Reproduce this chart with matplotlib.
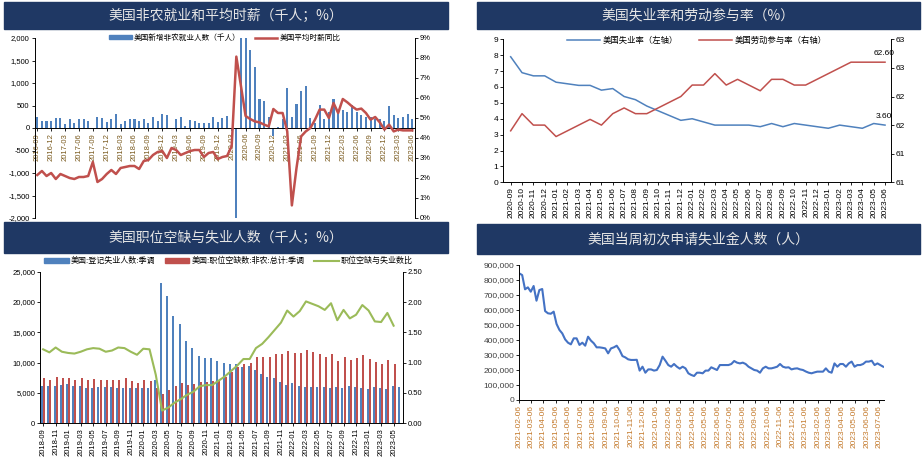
import matplotlib
matplotlib.use('Agg')
import matplotlib.pyplot as plt
import matplotlib.dates as mdates
from matplotlib.patches import Rectangle, Patch
from matplotlib.lines import Line2D
from matplotlib.ticker import FuncFormatter
import numpy as np
import pandas as pd

plt.rcParams['font.family'] = ['Liberation Sans', 'Noto Sans CJK SC']
plt.rcParams['axes.unicode_minus'] = False

W, H = 924, 463
NAVY = '#1F3864'
BLUE = '#4F81BD'
RED = '#C0504D'
GREEN = '#9BBB59'

# ---------------- panel 1: nonfarm payrolls & hourly earnings ----------------
nfp_months = pd.period_range('2016-09', '2023-06', freq='M').strftime('%Y-%m')
nfp = [237, 155, 163, 155,
       215, 215, 90, 200, 120, 200, 193, 155, 10, 245, 222, 140,
       193, 311, 90, 155, 200, 200, 163, 193, 120, 237, 155, 304,
       289, 5, 193, 245, 44, 178, 155, 120, 120, 120, 237, 133,
       215, 267, -60, -20500, 2700, 4600, 1736, 1348, 637, 608, 234, -176,
       30, 200, 894, 234, 542, 820, 923, 212, 117, 505, 190, 352,
       652, 410, 410, 366, 505, 366, 278, 234, 234, 190, 190, 150,
       498, 300, 227, 234, 322, 190]
ahe = [2.15, 2.35, 2.1, 2.25,
       1.95, 2.2, 2.1, 2.0, 1.95, 2.05, 2.05, 2.1, 2.8, 1.8, 1.95, 2.2,
       2.4, 2.2, 2.5, 2.55, 2.6, 2.6, 2.45, 2.85, 2.9, 3.15, 3.3, 3.35,
       3.0, 3.5, 3.4, 3.15, 3.25, 3.35, 3.4, 3.4, 3.05, 3.25, 3.3, 2.95,
       3.05, 3.1, 3.6, 8.07, 6.6, 5.1, 4.95, 4.83, 4.78, 4.67, 4.58, 5.45,
       5.25, 5.25, 4.33, 0.63, 2.5, 4.08, 4.33, 4.5, 4.92, 5.42, 5.42, 5.0,
       5.75, 5.25, 5.95, 5.78, 5.58, 5.42, 5.47, 5.25, 4.92, 5.05, 4.78, 4.42,
       4.67, 4.33, 4.42, 4.38, 4.38, 4.38]

# ---------------- panel 2: unemployment & participation ----------------
ur_months = pd.period_range('2020-09', '2023-06', freq='M').strftime('%Y-%m')
unemp = [7.9, 6.9, 6.7, 6.7, 6.3, 6.2, 6.1, 6.1, 5.8, 5.9, 5.4, 5.2, 4.8, 4.5,
         4.2, 3.9, 4.0, 3.8, 3.6, 3.6, 3.6, 3.6, 3.5, 3.7, 3.5, 3.7, 3.6, 3.5,
         3.4, 3.6, 3.5, 3.4, 3.7, 3.6]
lfpr = [61.4, 61.7, 61.5, 61.5, 61.3, 61.4, 61.5, 61.6, 61.5, 61.7, 61.8, 61.7,
        61.7, 61.8, 61.9, 62.0, 62.2, 62.2, 62.4, 62.2, 62.3, 62.2, 62.1, 62.3,
        62.3, 62.2, 62.2, 62.3, 62.4, 62.5, 62.6, 62.6, 62.6, 62.6]
lfpr_ticks = [60.5, 61.0, 61.5, 62.0, 62.5, 63.0]
lfpr_ticklabels = ['61', '61', '62', '62', '63', '63']

# ---------------- panel 3: openings vs unemployed ----------------
jo_months = pd.period_range('2018-09', '2023-06', freq='M').strftime('%Y-%m')
unemployed = [6100, 6200, 6100, 6300,
              6500, 6200, 6200, 5800, 5900, 6000, 6000, 6000, 5800, 5900, 5800, 5800,
              5800, 5800, 7100, 23100, 21000, 17700, 16300, 13500, 12500, 11100, 10800, 10800,
              10200, 10000, 9700, 9800, 9300, 9500, 8800, 8200, 7700, 7400, 6800, 6300,
              6600, 6200, 6000, 6000, 6000, 6000, 5900, 6000, 5900, 6100, 6000, 5900,
              5700, 6000, 5900, 5700, 6100, 6000]
openings = [7400, 7200, 7600, 7500,
            7400, 7100, 7400, 7100, 7300, 7200, 7100, 7200, 7100, 7400, 6900, 6700,
            7100, 7000, 5800, 4800, 5500, 6200, 6600, 6300, 6500, 6800, 6800, 6900,
            7200, 7700, 8400, 9300, 9800, 10000, 10900, 11000, 10900, 11400, 11400, 11900,
            11600, 11600, 12100, 11800, 11400, 11000, 11400, 10300, 10900, 10500, 10700, 11300,
            10600, 10100, 9800, 10400, 9800]
ratio = [1.22, 1.17, 1.25, 1.18,
         1.16, 1.15, 1.18, 1.22, 1.24, 1.23, 1.18, 1.20, 1.25, 1.24, 1.18, 1.13,
         1.23, 1.22, 0.80, 0.21, 0.26, 0.34, 0.40, 0.47, 0.52, 0.61, 0.63, 0.63,
         0.70, 0.77, 0.86, 0.95, 1.06, 1.06, 1.24, 1.31, 1.42, 1.54, 1.66, 1.86,
         1.76, 1.85, 2.01, 1.97, 1.93, 1.87, 1.98, 1.70, 1.87, 1.73, 1.79, 1.95,
         1.86, 1.68, 1.67, 1.82, 1.61]

# ---------------- panel 4: weekly initial claims ----------------
claims_k = [844, 833, 738, 751, 722, 760, 662, 733, 740, 593,
            578, 575, 589, 507, 467, 444, 404, 382, 371, 411,
            411, 367, 382, 362, 422, 396, 378, 351, 351, 348,
            344, 311, 344, 351, 362, 333, 293, 284, 271, 267,
            267, 268, 196, 222, 182, 204, 204, 196, 200, 233,
            289, 262, 233, 222, 240, 222, 209, 222, 211, 178,
            167, 160, 182, 182, 178, 196, 196, 218, 209, 200,
            233, 233, 233, 233, 240, 260, 249, 244, 249, 240,
            222, 211, 200, 196, 182, 211, 222, 211, 211, 216,
            222, 240, 222, 216, 218, 204, 209, 211, 204, 200,
            190, 182, 178, 184, 189, 189, 189, 211, 189, 182,
            244, 222, 240, 240, 222, 244, 256, 222, 233, 233,
            240, 256, 256, 262, 233, 244, 233, 222]
claims_dates = pd.date_range('2021-02-06', periods=len(claims_k), freq='7D')
claims = [v * 1000 for v in claims_k]

titles = ['美国非农就业和平均时薪（千人；%）', '美国失业率和劳动参与率（%）',
          '美国职位空缺与失业人数（千人；%）', '美国当周初次申请失业金人数（人）']

fig = plt.figure(figsize=(W / 100, H / 100), dpi=100)


def px_axes(x0, y0, x1, y1):
    return fig.add_axes([x0 / W, 1 - y1 / H, (x1 - x0) / W, (y1 - y0) / H])


def title_bar(x0, y0, x1, y1, text):
    fig.add_artist(Rectangle((x0 / W, 1 - y1 / H), (x1 - x0) / W, (y1 - y0) / H,
                             transform=fig.transFigure, color=NAVY, zorder=0))
    fig.text((x0 + x1) / 2 / W, 1 - (y0 + y1) / 2 / H, text, ha='center', va='center',
             color='#E6E6E6', fontsize=10, family=['Noto Sans CJK SC'])


def style(ax, fs=5.5):
    ax.tick_params(labelsize=fs, length=2, width=0.6, pad=1.5)
    for s in ax.spines.values():
        s.set_linewidth(0.7)


comma = FuncFormatter(lambda v, p: f'{v:,.0f}')

title_bar(4, 2, 448, 29, titles[0])
title_bar(477, 2, 920, 29, titles[1])
title_bar(4, 222, 448, 253, titles[2])
title_bar(477, 224, 920, 254, titles[3])

# panel 1
ax1 = px_axes(34.5, 38, 415, 218)
x1 = np.arange(len(nfp))
ax1.bar(x1, nfp, width=0.45, color=BLUE, zorder=2)
ax1.set_ylim(-2000, 2000)
ax1.set_xlim(-0.6, len(nfp) - 0.4)
ax1.spines['bottom'].set_position(('data', 0))
ax1.spines['top'].set_visible(False)
ax1.spines['right'].set_visible(False)
ax1.set_xticks(x1[::3])
ax1.set_xticklabels(nfp_months[::3], rotation=90, color='#7A5A1E')
ax1.set_yticks(range(-2000, 2001, 500))
ax1.yaxis.set_major_formatter(comma)
style(ax1)
ax1b = ax1.twinx()
ax1b.plot(x1, ahe, color=RED, lw=1.8)
ax1b.set_ylim(0, 9)
ax1b.set_yticks(range(10))
ax1b.set_yticklabels([f'{v}%' for v in range(10)])
for s in ['top', 'bottom', 'left']:
    ax1b.spines[s].set_visible(False)
style(ax1b)
ax1.legend([Patch(color=BLUE), Line2D([], [], color=RED, lw=1.8)],
           ['美国新增非农就业人数（千人）', '美国平均时薪同比'],
           loc='center', bbox_to_anchor=(0.5, 1.0), ncol=2, frameon=False,
           fontsize=5.5, handlelength=3, handleheight=0.45, columnspacing=1.8,
           handletextpad=0.3)

# panel 2
ax2 = px_axes(503.3, 39.3, 890.7, 182.3)
x2 = np.arange(len(unemp))
ax2.plot(x2, unemp, color=BLUE, lw=1.1)
ax2.set_ylim(0, 9)
ax2.set_yticks(range(10))
ax2.set_xlim(-0.65, len(unemp) - 0.5)
ax2.set_xticks(x2)
ax2.set_xticklabels(ur_months, rotation=90)
ax2.spines['top'].set_visible(False)
ax2.spines['right'].set_visible(False)
style(ax2, 6)
ax2b = ax2.twinx()
ax2b.plot(x2, lfpr, color=RED, lw=1.1)
ax2b.set_ylim(60.5, 63.0)
ax2b.set_yticks(lfpr_ticks)
ax2b.set_yticklabels(lfpr_ticklabels)
for s in ['top', 'bottom', 'left']:
    ax2b.spines[s].set_visible(False)
style(ax2b, 6)
ax2b.annotate(f'{lfpr[-1]:.2f}', (x2[-1], lfpr[-1]), xytext=(-1, 4),
              textcoords='offset points', ha='center', va='bottom', fontsize=6)
ax2.annotate(f'{unemp[-1]:.2f}', (x2[-1], unemp[-1]), xytext=(-1, 4),
             textcoords='offset points', ha='center', va='bottom', fontsize=6)
ax2.legend([Line2D([], [], color=BLUE, lw=1.1), Line2D([], [], color=RED, lw=1.1)],
           ['美国失业率（左轴）', '美国劳动参与率（右轴）'],
           loc='center', bbox_to_anchor=(0.5, 0.99), ncol=2, frameon=False,
           fontsize=6, handlelength=4, columnspacing=2.5, handletextpad=0.3)

# panel 3
ax3 = px_axes(40, 271.7, 403, 423.3)
x3 = np.arange(len(unemployed))
ax3.bar(x3 - 0.17, unemployed, width=0.32, color=BLUE, zorder=2)
ax3.bar(x3[:len(openings)] + 0.17, openings, width=0.32, color=RED, zorder=2)
ax3.set_ylim(0, 25000)
ax3.set_yticks(range(0, 25001, 5000))
ax3.yaxis.set_major_formatter(comma)
ax3.set_xlim(-0.5, len(unemployed) - 0.5)
ax3.set_xticks(x3[::2])
ax3.set_xticklabels(jo_months[::2], rotation=90)
ax3.spines['top'].set_visible(False)
ax3.spines['right'].set_visible(False)
style(ax3)
ax3b = ax3.twinx()
ax3b.plot(x3[:len(ratio)], ratio, color=GREEN, lw=1.5)
ax3b.set_ylim(0, 2.5)
ax3b.set_yticks(np.arange(0, 2.51, 0.5))
ax3b.yaxis.set_major_formatter(FuncFormatter(lambda v, p: f'{v:.2f}'))
for s in ['top', 'bottom', 'left']:
    ax3b.spines[s].set_visible(False)
style(ax3b)
ax3.legend([Patch(color=BLUE), Patch(color=RED), Line2D([], [], color=GREEN, lw=1.5)],
           ['美国:登记失业人数:季调', '美国:职位空缺数:非农:总计:季调', '职位空缺与失业数比'],
           loc='center', bbox_to_anchor=(0.52, 1.07), ncol=3, frameon=False,
           fontsize=5.8, handlelength=3, handleheight=0.45, columnspacing=1.2,
           handletextpad=0.3)

# panel 4
ax4 = px_axes(519.3, 265, 884, 400)
ax4.plot(claims_dates, claims, color='#4472C4', lw=1.5)
ax4.set_ylim(0, 900000)
ax4.set_yticks(range(0, 900001, 100000))
ax4.yaxis.set_major_formatter(comma)
ax4.set_xlim(claims_dates[0], claims_dates[-1] + pd.Timedelta(days=2))
ax4.xaxis.set_major_locator(mdates.MonthLocator(bymonthday=6))
ax4.xaxis.set_major_formatter(mdates.DateFormatter('%Y-%m-%d'))
plt.setp(ax4.get_xticklabels(), rotation=90, color='#C47A2C')
ax4.spines['top'].set_visible(False)
ax4.spines['right'].set_visible(False)
style(ax4, 6)
for lab in ax4.get_yticklabels():
    lab.set_color('#404040')

fig.savefig('out.png', dpi=100)
